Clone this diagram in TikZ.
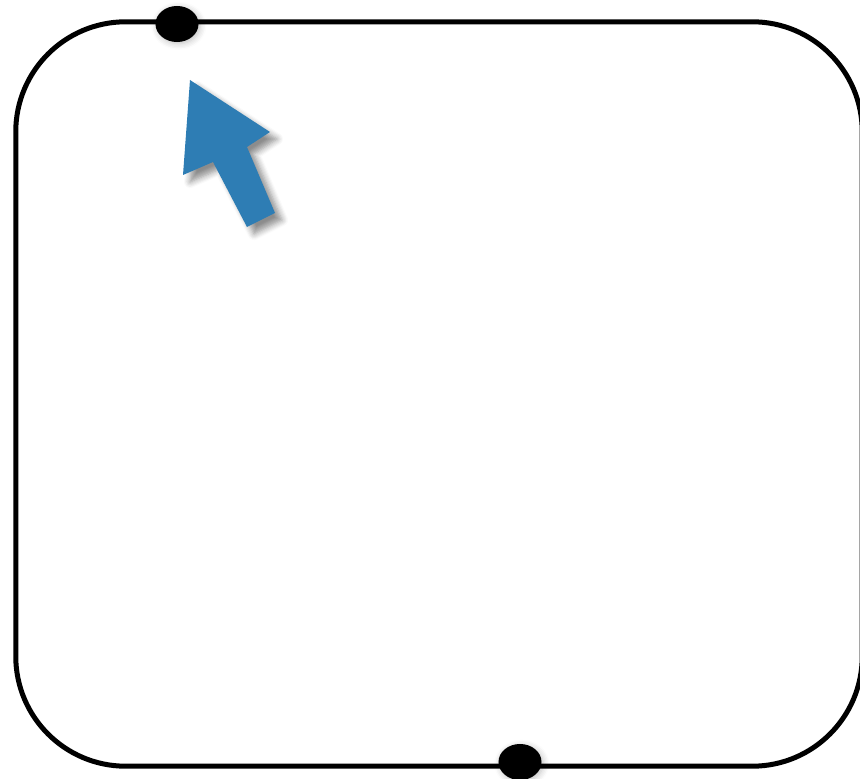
\documentclass[tikz,border=0pt]{standalone}
\usetikzlibrary{shapes.geometric,shadows.blur}
\definecolor{arrowblue}{HTML}{2E7DB4}
\tikzset{
  frame/.style={draw=black, line width=0.05cm, rounded corners=1.1cm, minimum width=8.46cm, minimum height=7.44cm, inner sep=0pt},
  dot/.style={ellipse, fill=black, minimum width=0.43cm, minimum height=0.36cm, inner sep=0pt, blur shadow={shadow xshift=0.5pt, shadow yshift=-0.5pt, shadow blur steps=5, shadow opacity=25}},
  bluearrow/.style={fill=arrowblue, blur shadow={shadow xshift=2pt, shadow yshift=-2pt, shadow blur steps=6, shadow opacity=45}}
}
\begin{document}
\begin{tikzpicture}[x=0.01cm, y=-0.01cm]
\useasboundingbox (0,0) rectangle (860,779);
\node[frame] (box) at (439,394) {};
\node[dot] (topdot) at (177,24) {};
\node[dot] (botdot) at (520,762) {};
\path[bluearrow] (190,80) -- (270,132) -- (247,147) -- (275,213) -- (247,227) -- (213,162) -- (183,175) -- cycle;
\end{tikzpicture}
\end{document}
